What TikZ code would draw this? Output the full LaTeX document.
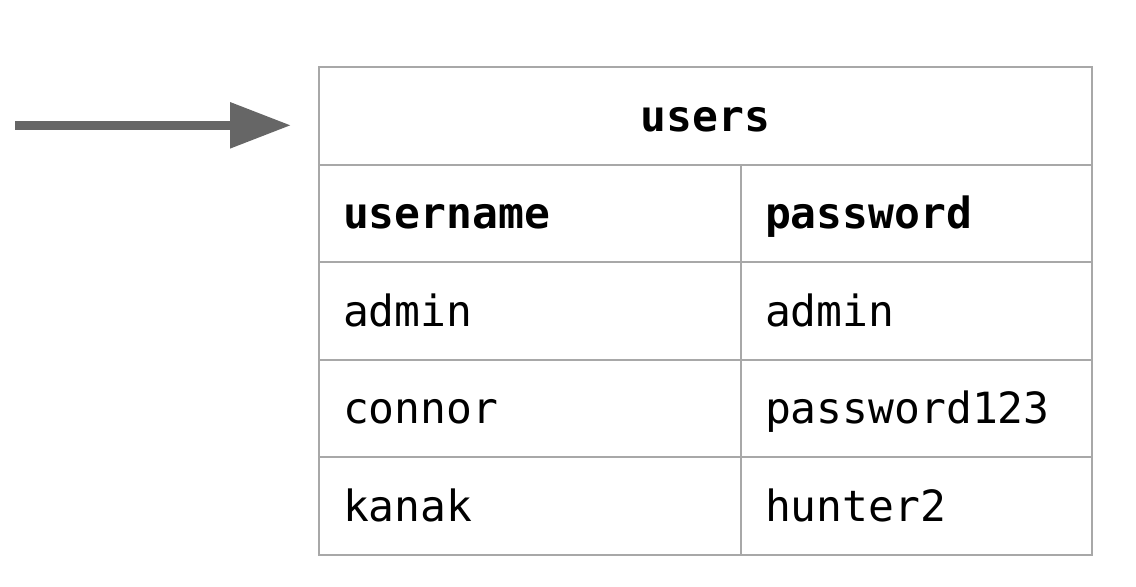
\documentclass[tikz,border=0pt]{standalone}
\usepackage{fontspec}
\newfontfamily\tablefont{DejaVu Sans Mono}
\usetikzlibrary{arrows.meta}
\definecolor{linegray}{HTML}{A8A8A8}
\definecolor{arrowgray}{HTML}{666666}

\begin{document}
\begin{tikzpicture}[
    x=0.5pt, y=-0.5pt,
    cell/.style={draw=linegray, line width=1pt, inner xsep=12pt, inner ysep=0pt,
                 minimum height=48.8pt, text height=1.62em, text depth=0.1em, align=left},
    ucell/.style={cell, text width=187pt},
    pcell/.style={cell, text width=151.5pt},
    pointer/.style={draw=arrowgray, line width=4.5pt, -{Triangle[length=30.5pt,width=22pt]}},
    font=\tablefont\fontsize{21.5}{26}\selectfont
    ]

    \useasboundingbox (0,0) rectangle (1136,586);

    % table name:
    \node(title) at (705.5, 115.8) [cell, minimum width=386.5pt, align=center] {\bfseries users};

    % column heads:
    \node(u0) at (530, 213.4) [ucell] {\bfseries username};
    \node(p0) at (916.5, 213.4) [pcell] {\bfseries password};

    % rows:
    \foreach \u/\p [count=\i] in {admin/admin, connor/password123, kanak/hunter2} {
      \node(u\i) at (530, 213.4 + \i * 97.6) [ucell] {\u};
      \node(p\i) at (916.5, 213.4 + \i * 97.6) [pcell] {\p};
    }

    % arrow
    \coordinate (src) at (15, 125.3);
    \coordinate (tip) at (291, 125.3);
    \draw[pointer] (src) -- (tip);

  \end{tikzpicture}
\end{document}
